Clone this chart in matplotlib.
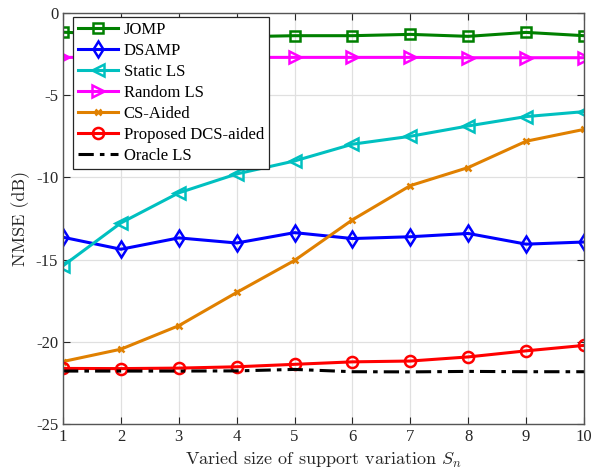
import matplotlib
matplotlib.use("Agg")
import matplotlib.pyplot as plt
from matplotlib.ticker import FuncFormatter

x = [1, 2, 3, 4, 5, 6, 7, 8, 9, 10]
jomp = [-1.17, -1.3, -1.35, -1.45, -1.38, -1.38, -1.3, -1.42, -1.18, -1.38]
dsamp = [-13.64, -14.37, -13.68, -13.99, -13.36, -13.72, -13.61, -13.41, -14.06, -13.93]
static_ls = [-15.38, -12.77, -10.94, -9.79, -9.0, -7.98, -7.5, -6.87, -6.3, -6.0]
random_ls = [-2.7, -2.7, -2.7, -2.7, -2.7, -2.7, -2.7, -2.72, -2.72, -2.72]
cs_aided = [-21.2, -20.45, -19.02, -17.0, -15.05, -12.58, -10.5, -9.4, -7.8, -7.08]
proposed = [-21.62, -21.63, -21.6, -21.52, -21.37, -21.22, -21.17, -20.92, -20.55, -20.22]
oracle = [-21.78, -21.78, -21.78, -21.77, -21.68, -21.82, -21.83, -21.8, -21.82, -21.82]

labels = ["JOMP", "DSAMP", "Static LS", "Random LS", "CS-Aided",
          "Proposed DCS-aided", "Oracle LS"]

plt.rcParams['mathtext.fontset'] = 'cm'
fig = plt.figure(figsize=(5.94, 4.74), dpi=100)
ax = fig.add_axes([63/594, 1-424/474, (584-63)/594, (424-13)/474])

lw = 2.2
ax.plot(x, jomp, color='#008000', marker='s', ms=7, mfc='none', mew=1.8, lw=lw, label=labels[0])
ax.plot(x, dsamp, color='#0000ff', marker='d', ms=8, mfc='none', mew=1.8, lw=lw, label=labels[1])
ax.plot(x, static_ls, color='#00c0c0', marker='<', ms=9, mfc='none', mew=1.8, lw=lw, label=labels[2])
ax.plot(x, random_ls, color='#ff00ff', marker='>', ms=9, mfc='none', mew=1.8, lw=lw, label=labels[3])
ax.plot(x, cs_aided, color='#e08000', marker='x', ms=5, mew=1.8, lw=lw, label=labels[4])
ax.plot(x, proposed, color='#ff0000', marker='o', ms=8, mfc='none', mew=1.8, lw=lw, label=labels[5])
ax.plot(x, oracle, color='black', ls=(0, (5, 2, 1.5, 2)), lw=lw, label=labels[6])

ax.set_xlim(1, 10)
ax.set_ylim(-25, 0)
ax.set_xticks(x)
ax.set_yticks([-25, -20, -15, -10, -5, 0])
ax.yaxis.set_major_formatter(FuncFormatter(lambda v, p: '%d' % v))
for t in ax.get_xticklabels() + ax.get_yticklabels():
    t.set_fontfamily('Liberation Serif')
    t.set_fontsize(12)
    t.set_color('#262626')
ax.tick_params(direction='in', top=True, right=True, length=5, width=0.8, colors='#262626')
ax.grid(True, color='#e0e0e0', lw=0.9)
ax.set_axisbelow(True)
for s in ax.spines.values():
    s.set_color('#555555')
    s.set_linewidth(1.0)

ax.set_xlabel(r'Varied size of support variation $S_n$', fontfamily='cmr10', fontsize=13, color='#262626', labelpad=4)
ax.set_ylabel('NMSE (dB)', fontfamily='cmr10', fontsize=13, color='#262626', labelpad=4)

leg = ax.legend(loc='upper left', bbox_to_anchor=(10/521, 1 - 4/411), prop={'family': 'Liberation Serif', 'size': 12},
                fancybox=False, edgecolor='#262626', framealpha=1, handlelength=2.4,
                handletextpad=0.35, borderpad=0.3, labelspacing=0.3, borderaxespad=0.0)
leg.get_frame().set_linewidth(0.9)

fig.savefig('out.png', dpi=100)
